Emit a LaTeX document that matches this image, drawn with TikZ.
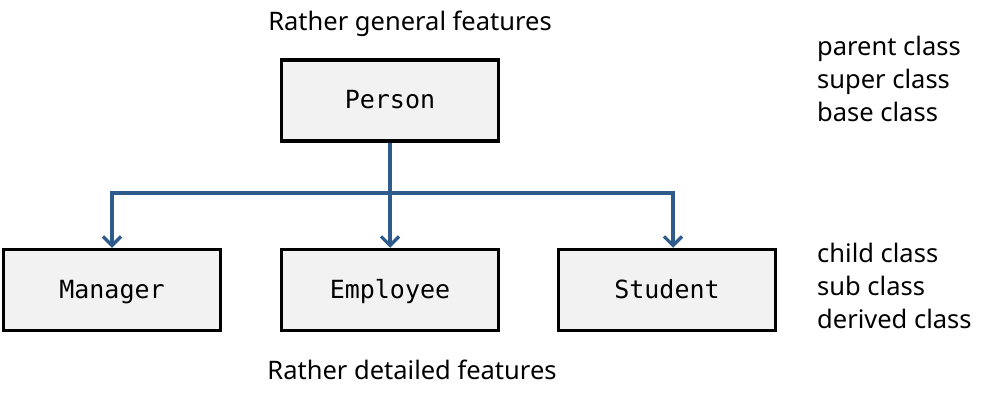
\documentclass[tikz,border=0pt]{standalone}
\usepackage{fontspec}
\setmainfont{Noto Sans}
\newfontfamily\boxmono{DejaVu Sans Mono}
\usetikzlibrary{arrows.meta}
\definecolor{boxfill}{HTML}{F2F2F2}
\definecolor{connblue}{HTML}{2F5B8C}
\begin{document}
\begin{tikzpicture}[x=1pt,y=-1pt,
  classbox/.style={draw=black,line width=3.5pt,fill=boxfill,minimum width=217pt,minimum height=81pt,inner sep=0pt,text height=20pt,text depth=3pt,font=\boxmono\fontsize{25}{30}\selectfont},
  conn/.style={draw=connblue,line width=3.2pt},
  connarrow/.style={conn,-{Straight Barb[length=9pt,width=18pt]}},
  lbl/.style={font=\fontsize{25.5}{30}\selectfont,inner sep=0pt},
  side/.style={font=\fontsize{25.5}{33}\selectfont,inner sep=0pt,align=left,anchor=north west}]
\useasboundingbox (0,0) rectangle (989,412);
\node[classbox] (person) at (390,100.5) {Person};
\node[classbox] (manager) at (112,290) {Manager};
\node[classbox] (employee) at (390,290) {Employee};
\node[classbox] (student) at (667,290) {Student};
\node[lbl] (general) at (410,24) {Rather general features};
\node[lbl] (detailed) at (412,370) {Rather detailed features};
\node[side] (parent) at (817,36) {parent class\\super class\\base class};
\node[side] (child) at (817,243) {child class\\sub class\\derived class};
\draw[conn] (person.south) -- (390,193) coordinate (junc);
\draw[connarrow] (junc) -| (manager.north);
\draw[connarrow] (junc) -- (employee.north);
\draw[connarrow] (junc) -| ([xshift=6pt]student.north);
\end{tikzpicture}
\end{document}
